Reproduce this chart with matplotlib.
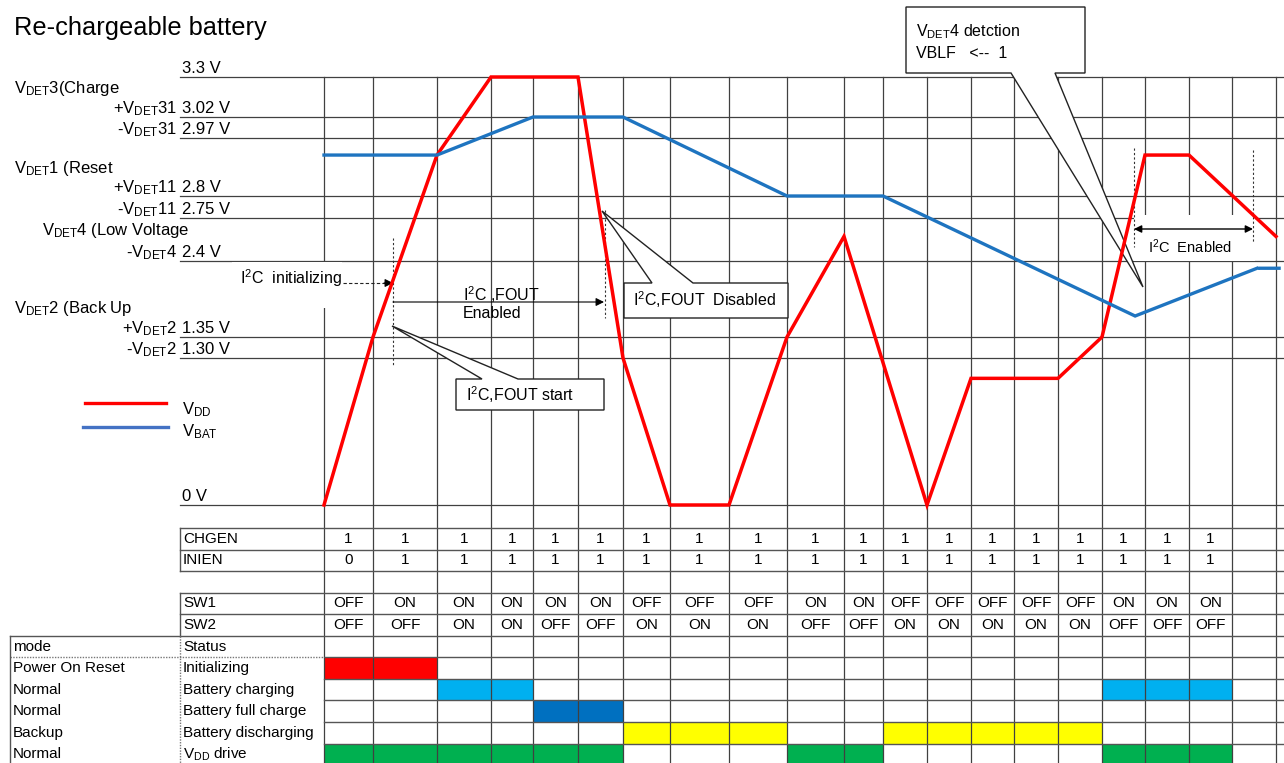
import numpy as np
import matplotlib
matplotlib.use('Agg')
import matplotlib.pyplot as plt
from matplotlib.patches import Polygon, Rectangle
from matplotlib.transforms import blended_transform_factory, offset_copy

plt.rcParams['font.family'] = ['Liberation Sans', 'DejaVu Sans']
plt.rcParams['mathtext.fontset'] = 'custom'
plt.rcParams['mathtext.rm'] = 'Liberation Sans'
plt.rcParams['mathtext.it'] = 'Liberation Sans:italic'
plt.rcParams['mathtext.bf'] = 'Liberation Sans:bold'

# ---------------- data ----------------
# time axis counted in table columns (0 .. 20)
vdd_t = [0, 1, 2, 3, 5, 6, 7, 8, 9, 10, 12, 13, 15, 16, 17, 18, 20]
vdd_v = [0, 1.35, 2.92, 3.3, 3.3, 1.30, 0, 0, 1.35, 2.6, 0, 1.12, 1.12, 1.35, 2.92, 2.92, 2.6]
vbat_t = [0, 2, 4, 6, 9, 11, 16.77, 19.57, np.nan, 19.64, 20.07]
vbat_v = [2.92, 2.92, 3.02, 3.02, 2.8, 2.8, 1.64, 2.30, np.nan, 2.30, 2.30]

level_v = [3.3, 3.02, 2.97, 2.8, 2.75, 2.4, 1.35, 1.30, 0]
level_text = ['3.3 V', '3.02 V', '2.97 V', '2.8 V', '2.75 V', '2.4 V', '1.35 V', '1.30 V', '0 V']
level_name = ['', r'+V$_{\mathrm{DET}}$31', r'-V$_{\mathrm{DET}}$31', r'+V$_{\mathrm{DET}}$11',
              r'-V$_{\mathrm{DET}}$11', r'-V$_{\mathrm{DET}}$4', r'+V$_{\mathrm{DET}}$2',
              r'-V$_{\mathrm{DET}}$2', '']

chgen = ['1', '1', '1', '1', '1', '1', '1', '1', '1', '1', '1', '1', '1', '1', '1', '1', '1', '1', '1']
inien = ['0', '1', '1', '1', '1', '1', '1', '1', '1', '1', '1', '1', '1', '1', '1', '1', '1', '1', '1']
sw1 = ['OFF', 'ON', 'ON', 'ON', 'ON', 'ON', 'OFF', 'OFF', 'OFF', 'ON', 'ON',
       'OFF', 'OFF', 'OFF', 'OFF', 'OFF', 'ON', 'ON', 'ON']
sw2 = ['OFF', 'OFF', 'ON', 'ON', 'OFF', 'OFF', 'ON', 'ON', 'ON', 'OFF', 'OFF',
       'ON', 'ON', 'ON', 'ON', 'ON', 'OFF', 'OFF', 'OFF']

status_names = ['Initializing', 'Battery charging', 'Battery full charge',
                'Battery discharging', r'V$_{\mathrm{DD}}$ drive']
status_modes = ['Power On Reset', 'Normal', 'Normal', 'Backup', 'Normal']
status_colors = ['#FF0000', '#00B0F0', '#0070C0', '#FFFF00', '#00B050']
status_cols = [[0, 1],
               [2, 3, 16, 17, 18],
               [4, 5],
               [6, 7, 8, 11, 12, 13, 14, 15],
               [0, 1, 2, 3, 4, 5, 9, 10, 16, 17, 18]]

# ---------------- layout ----------------
W, H = 1284, 763
col_edges_px = np.array([324, 373, 437, 491, 533, 578, 623, 670, 729, 787, 844,
                         883, 927, 971, 1014, 1058, 1102, 1145, 1189, 1232, 1276])
level_px = np.array([77, 117, 138, 196, 218, 261, 337, 358, 505])
row_top, row_h = 528, 21.55
grid_c = '#404040'

t_knots = np.r_[-20, np.arange(len(col_edges_px)), 40]
x_knots = np.r_[col_edges_px[0] - 20 * 49, col_edges_px, col_edges_px[-1] + 20 * 44]
v_knots = np.r_[-5, level_v[::-1], 5]
h_knots = H - np.r_[505 + 5 * 112, level_px[::-1], 77 - 1.7 * 143]


def t_fwd(t):
    return np.interp(t, t_knots, x_knots)


def t_inv(x):
    return np.interp(x, x_knots, t_knots)


def v_fwd(v):
    return np.interp(v, v_knots, h_knots)


def v_inv(h):
    return np.interp(h, h_knots, v_knots)


fig = plt.figure(figsize=(W / 100, H / 100), dpi=100)
fig.patch.set_facecolor('white')
axt = fig.add_axes([0, 0, 1, 1], label='table', zorder=0)
ax = fig.add_axes([0, 0, 1, 1], label='notes', zorder=1)
axv = fig.add_axes([0, 0, 1, 1], label='curves', zorder=2)

ax.set_xlim(0, W)
ax.set_ylim(H, 0)

axv.set_xscale('function', functions=(t_fwd, t_inv))
axv.set_yscale('function', functions=(v_fwd, v_inv))
axv.set_xlim(float(t_inv(0)), float(t_inv(W)))
axv.set_ylim(float(v_inv(0)), float(v_inv(H)))

axt.set_xscale('function', functions=(t_fwd, t_inv))
axt.set_xlim(float(t_inv(0)), float(t_inv(W)))
axt.set_ylim((H - row_top) / row_h, -row_top / row_h)

for a in (axt, ax, axv):
    a.axis('off')

# ---------------- grid ----------------
top_frac = float(v_fwd(level_v[0])) / H
for i in range(len(col_edges_px)):
    axt.axvline(i, ymin=0, ymax=top_frac, color=grid_c, lw=0.9, zorder=3)

lvl_tr = blended_transform_factory(axt.transAxes, axv.transData)
for v in level_v:
    axt.plot([180 / W, 1], [v, v], transform=lvl_tr, color=grid_c, lw=0.9, zorder=3)

x0 = float(t_fwd(0)) / W
for r in [0, 1, 2, 3, 4]:
    axt.axhline(r, xmin=180 / W, xmax=1, color='#555555', lw=1.0, zorder=3)
axt.axhline(5, xmin=10 / W, xmax=1, color='#555555', lw=1.0, zorder=3)
axt.axhline(6, xmin=10 / W, xmax=x0, color='#777777', lw=1.0, ls=(0, (1, 1)), zorder=3)
for r in [6, 7, 8, 9, 10]:
    axt.axhline(r, xmin=x0, xmax=1, color='#555555', lw=1.0, zorder=3)
xb = float(t_inv(180))
axt.plot([xb, xb], [0, 2], color='#555555', lw=1.0, zorder=3)
axt.plot([xb, xb], [3, 5], color='#555555', lw=1.0, zorder=3)
axt.plot([xb, xb], [5, 11], color='#777777', lw=1.0, ls=(0, (1, 1)), zorder=3)
xm = float(t_inv(10))
axt.plot([xm, xm], [5, 11], color='#555555', lw=1.0, zorder=3)

# ---------------- table ----------------
for k, (cols, colr) in enumerate(zip(status_cols, status_colors)):
    axt.broken_barh([(c, 1) for c in cols], (6 + k, 1), facecolors=colr, zorder=1)

for r, vals in [(0, chgen), (1, inien), (3, sw1), (4, sw2)]:
    for c, s in enumerate(vals):
        axt.text(c + 0.5, r + 0.5, s, ha='center', va='center', fontsize=11, zorder=4)

lab_tr = blended_transform_factory(ax.transData, axt.transData)
row_labels = ['CHGEN', 'INIEN', '', 'SW1', 'SW2', 'Status'] + status_names
for r, s in enumerate(row_labels):
    if s:
        axt.text(183, r + 0.5, s, transform=lab_tr, ha='left', va='center', fontsize=11, zorder=4)
for r, s in enumerate(['mode'] + status_modes):
    axt.text(13, r + 5.5, s, transform=lab_tr, ha='left', va='center', fontsize=11, zorder=4)

# ---------------- level labels ----------------
lv_tr = offset_copy(blended_transform_factory(ax.transData, axv.transData), y=4, units='dots')
for v, s, n in zip(level_v, level_text, level_name):
    ax.text(182, v, s, transform=lv_tr, ha='left', va='baseline', fontsize=12)
    if n:
        ax.text(177, v, n, transform=lv_tr, ha='right', va='baseline', fontsize=12)

for s, x, y in [(r'V$_{\mathrm{DET}}$3(Charge', 14, 93), (r'V$_{\mathrm{DET}}$1 (Reset', 14, 173),
                (r'V$_{\mathrm{DET}}$4 (Low Voltage', 42, 235), (r'V$_{\mathrm{DET}}$2 (Back Up', 14, 313)]:
    ax.text(x, y, s, ha='left', va='baseline', fontsize=12)

ax.text(14, 28, 'Re-chargeable battery', ha='left', va='center', fontsize=18.3)

# legend key
ax.plot([85, 166], [403, 403], color='#FF0000', lw=2.4)
ax.plot([83, 168], [427, 427], color='#4472C4', lw=2.4)
ax.text(182, 414, r'V$_{\mathrm{DD}}$', ha='left', va='baseline', fontsize=12)
ax.text(182, 436, r'V$_{\mathrm{BAT}}$', ha='left', va='baseline', fontsize=12)

# ---------------- callouts ----------------
box_kw = dict(facecolor='white', edgecolor='#222222', lw=1.0, zorder=2)

ax.add_patch(Rectangle((232, 262), 110, 46, facecolor='white', edgecolor='none', zorder=1))
ax.text(240, 278, r'I$^{2}$C  initializing', ha='left', va='center', fontsize=11.5, zorder=3)
ax.plot([343, 386], [283, 283], color='#222222', lw=0.8, ls=(0, (3, 2)), zorder=3)
ax.annotate('', xy=(393, 283), xytext=(384, 283),
            arrowprops=dict(arrowstyle='-|>', color='black', lw=0.8, mutation_scale=12,
                            shrinkA=0, shrinkB=0), zorder=3)
ax.plot([393, 393], [238, 365], color='#333333', lw=0.8, ls=(0, (2, 2)), zorder=3)
ax.plot([605, 605], [210, 318], color='#333333', lw=0.8, ls=(0, (2, 2)), zorder=3)
ax.annotate('', xy=(604, 302), xytext=(393, 302),
            arrowprops=dict(arrowstyle='-|>', color='black', lw=0.8, mutation_scale=12,
                            shrinkA=0, shrinkB=0), zorder=3)
ax.text(463, 295, r'I$^{2}$C ,FOUT', ha='left', va='center', fontsize=11.5, zorder=3)
ax.text(463, 313, 'Enabled', ha='left', va='center', fontsize=11.5, zorder=3)

ax.add_patch(Polygon([(624, 283), (652, 283), (602, 211), (693, 283), (788, 283),
                      (788, 318), (624, 318)], closed=True, **box_kw))
ax.text(633, 300, r'I$^{2}$C,FOUT  Disabled', ha='left', va='center', fontsize=11.5, zorder=3)

ax.add_patch(Polygon([(456, 379), (482, 379), (392, 326), (518, 379), (604, 379),
                      (604, 410), (456, 410)], closed=True, **box_kw))
ax.text(466, 395, r'I$^{2}$C,FOUT start', ha='left', va='center', fontsize=11.5, zorder=3)

ax.add_patch(Polygon([(906, 7), (1085, 7), (1085, 73), (1055, 73), (1143, 287),
                      (1011, 73), (906, 73)], closed=True, **box_kw))
ax.text(916, 32, r'V$_{\mathrm{DET}}$4 detction', ha='left', va='center', fontsize=11.5, zorder=3)
ax.text(916, 54, 'VBLF   <--  1', ha='left', va='center', fontsize=11.5, zorder=3)

ax.add_patch(Rectangle((1134, 215), 121, 46, facecolor='white', edgecolor='none', zorder=1))
ax.plot([1134, 1134], [148, 247], color='#333333', lw=0.8, ls=(0, (2, 2)), zorder=3)
ax.plot([1253, 1253], [150, 243], color='#333333', lw=0.8, ls=(0, (2, 2)), zorder=3)
ax.annotate('', xy=(1253, 229), xytext=(1134, 229),
            arrowprops=dict(arrowstyle='<|-|>', color='black', lw=1.0, mutation_scale=11,
                            shrinkA=0, shrinkB=0), zorder=3)
ax.text(1148, 247, r'I$^{2}$C  Enabled', ha='left', va='center', fontsize=10.5, zorder=3)

# ---------------- curves ----------------
axv.plot(vdd_t, vdd_v, color='#FF0000', lw=2.5, solid_joinstyle='miter')
axv.plot(vbat_t, vbat_v, color='#1E74C0', lw=2.4, solid_joinstyle='miter')

fig.savefig('out.png', dpi=100)
